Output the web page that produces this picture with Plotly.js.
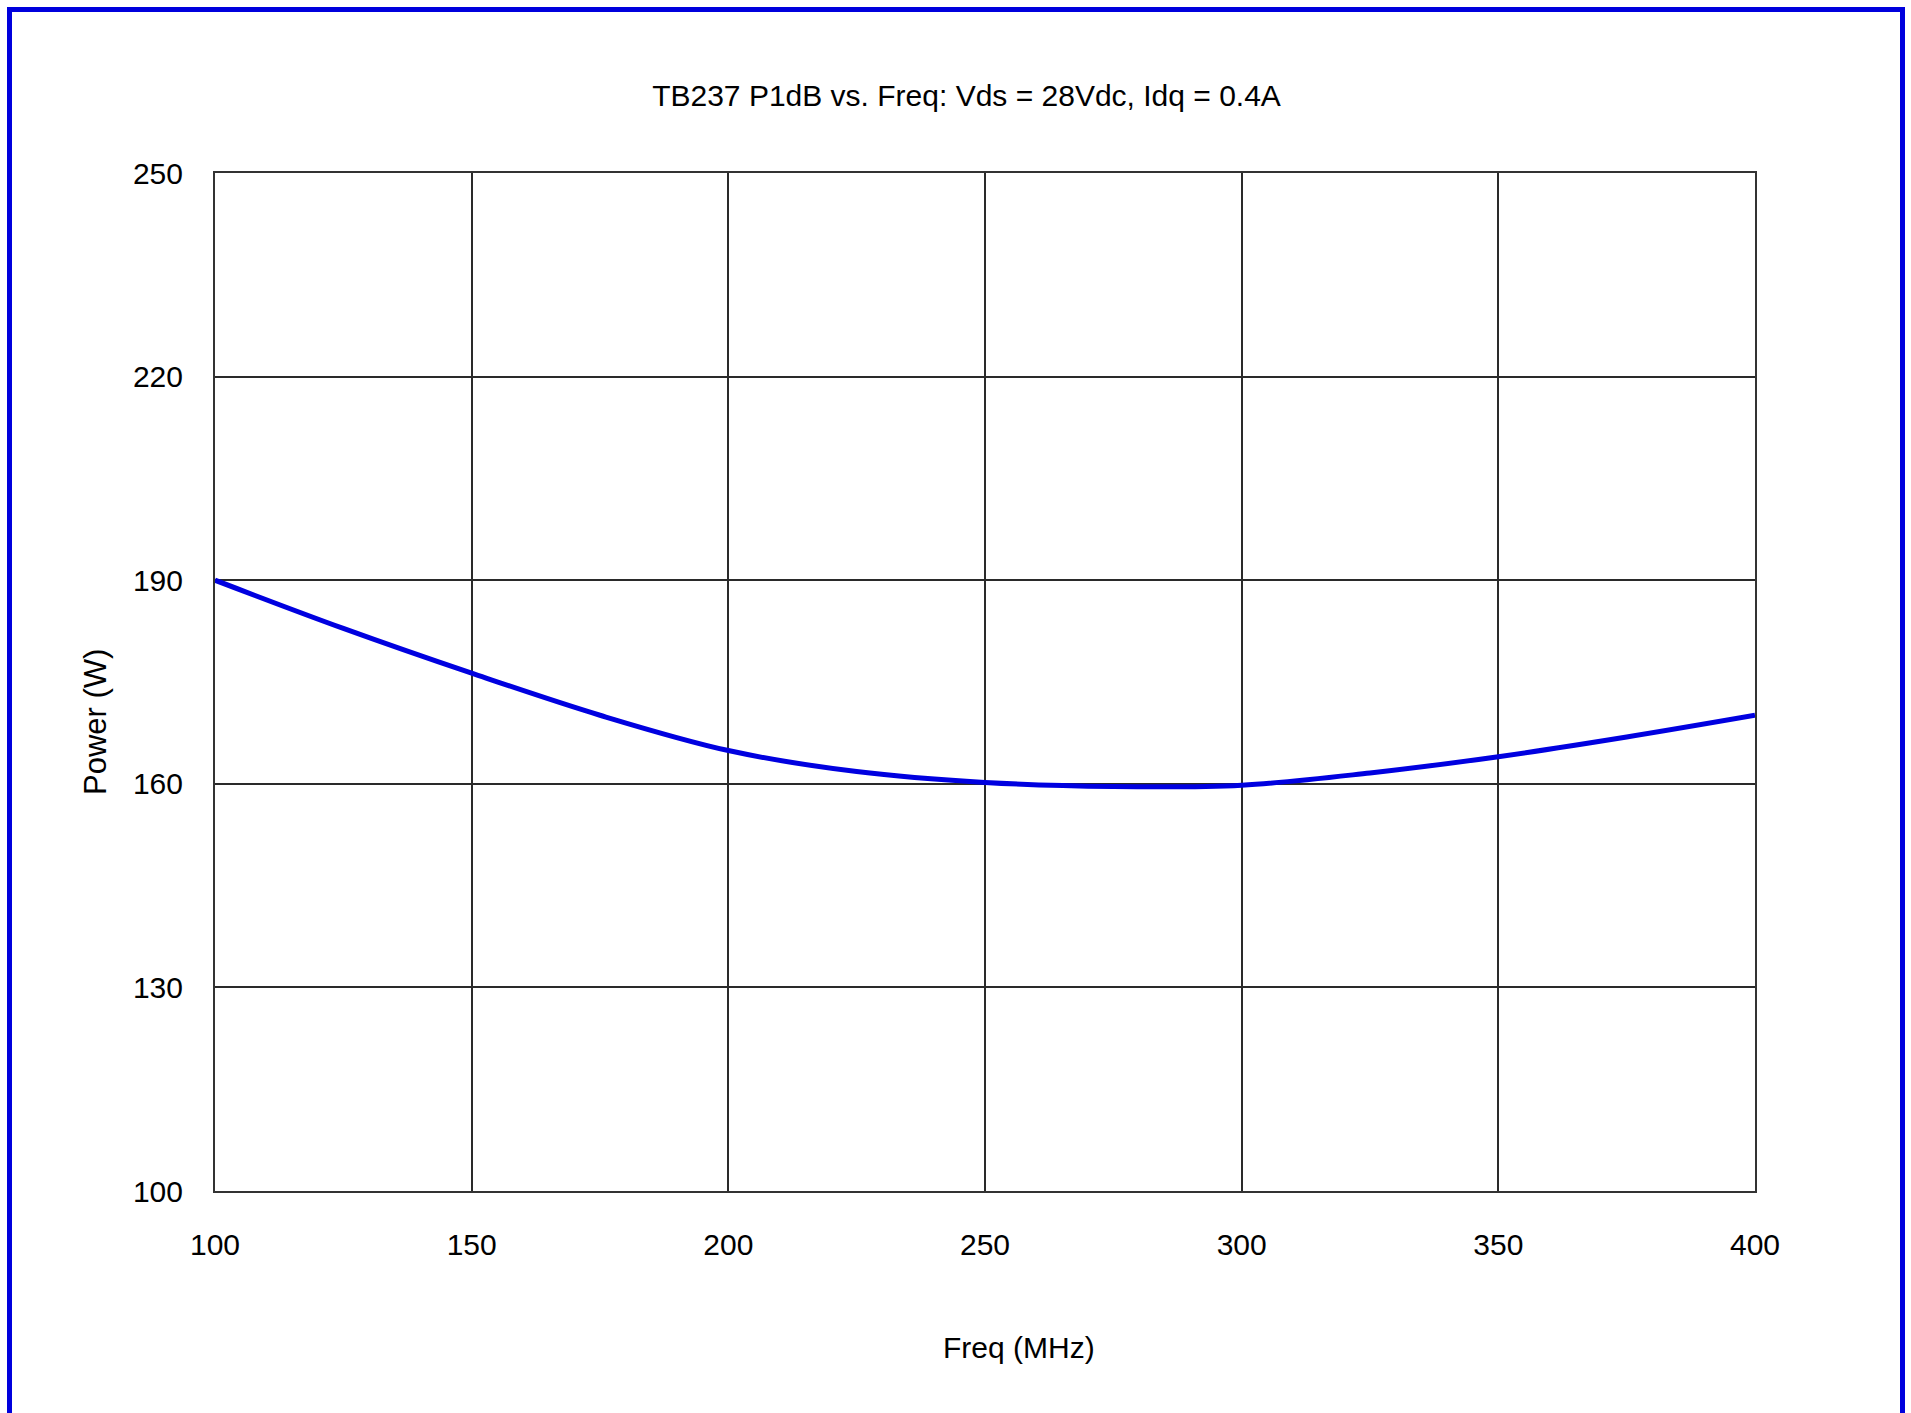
<!DOCTYPE html>
<html>
<head>
<meta charset="utf-8">
<script src="https://cdn.plot.ly/plotly-3.0.1.min.js"></script>
<style>
  html, body { margin: 0; padding: 0; background: #ffffff; }
  #chart { width: 1911px; height: 1413px; }
</style>
</head>
<body>
<div id="chart"></div>
<script>
// Frequency (MHz) and P1dB output power (W)
var freqMHz = [100, 125, 150, 175, 200, 225, 250, 275, 300, 325, 350, 375, 400];
var powerW  = [190.0, 182.9, 176.3, 170.1, 164.9, 161.8, 160.2, 159.6, 159.8, 161.6, 164.0, 166.9, 170.1];

var xTicks = [100, 150, 200, 250, 300, 350, 400];
var yTicks = [100, 130, 160, 190, 220, 250];

var chartTitle = 'TB237 P1dB vs. Freq: Vds = 28Vdc, Idq = 0.4A';
var xTitle = 'Freq (MHz)';
var yTitle = 'Power (W)';

var font = '"Liberation Sans", Arial, sans-serif';

var trace = {
  x: freqMHz,
  y: powerW,
  type: 'scatter',
  mode: 'lines',
  line: { color: '#0000e0', width: 5, shape: 'spline', smoothing: 1.0 },
  showlegend: false,
  hoverinfo: 'x+y'
};

var layout = {
  width: 1911,
  height: 1413,
  margin: { l: 215, r: 156, t: 173, b: 222, pad: 0 },
  paper_bgcolor: '#ffffff',
  plot_bgcolor: '#ffffff',
  font: { family: font, color: '#000000' },
  title: {
    text: chartTitle,
    font: { family: font, size: 30, color: '#000000' },
    x: 0.488, xref: 'paper', xanchor: 'center',
    y: 1 - 95 / 1413, yref: 'container', yanchor: 'middle'
  },
  xaxis: {
    range: [100, 400],
    tickvals: xTicks,
    ticktext: xTicks.map(String),
    showgrid: true,
    gridcolor: '#2a2a2a',
    gridwidth: 2,
    zeroline: false,
    showline: true,
    linecolor: '#333333',
    linewidth: 2,
    mirror: true,
    ticks: '',
    ticklabelstandoff: 26,
    tickfont: { family: font, size: 30, color: '#000000' }
  },
  yaxis: {
    range: [100, 250],
    tickvals: yTicks,
    ticktext: yTicks.map(String),
    showgrid: true,
    gridcolor: '#2a2a2a',
    gridwidth: 2,
    zeroline: false,
    showline: true,
    linecolor: '#333333',
    linewidth: 2,
    mirror: true,
    ticks: '',
    ticklabelstandoff: 24,
    tickfont: { family: font, size: 30, color: '#000000' }
  },
  annotations: [
    {
      text: xTitle,
      xref: 'paper', yref: 'paper',
      x: (1019 - 215) / 1540, y: (1191 - 1347) / 1018,
      xanchor: 'center', yanchor: 'middle',
      showarrow: false,
      font: { family: font, size: 30, color: '#000000' }
    },
    {
      text: yTitle,
      xref: 'paper', yref: 'paper',
      x: (95 - 215) / 1540, y: (1191 - 722) / 1018,
      xanchor: 'center', yanchor: 'middle',
      textangle: -90,
      showarrow: false,
      font: { family: font, size: 31, color: '#000000' }
    }
  ],
  shapes: [
    {
      type: 'rect',
      xref: 'paper', yref: 'paper',
      x0: (9.5 - 215) / 1540, x1: (1902.5 - 215) / 1540,
      y0: (1191 - 1440) / 1018, y1: (1191 - 9.5) / 1018,
      line: { color: '#0000dd', width: 5 },
      fillcolor: 'rgba(0,0,0,0)',
      layer: 'above'
    }
  ]
};

Plotly.newPlot('chart', [trace], layout, { displayModeBar: false, staticPlot: true });
</script>
</body>
</html>
